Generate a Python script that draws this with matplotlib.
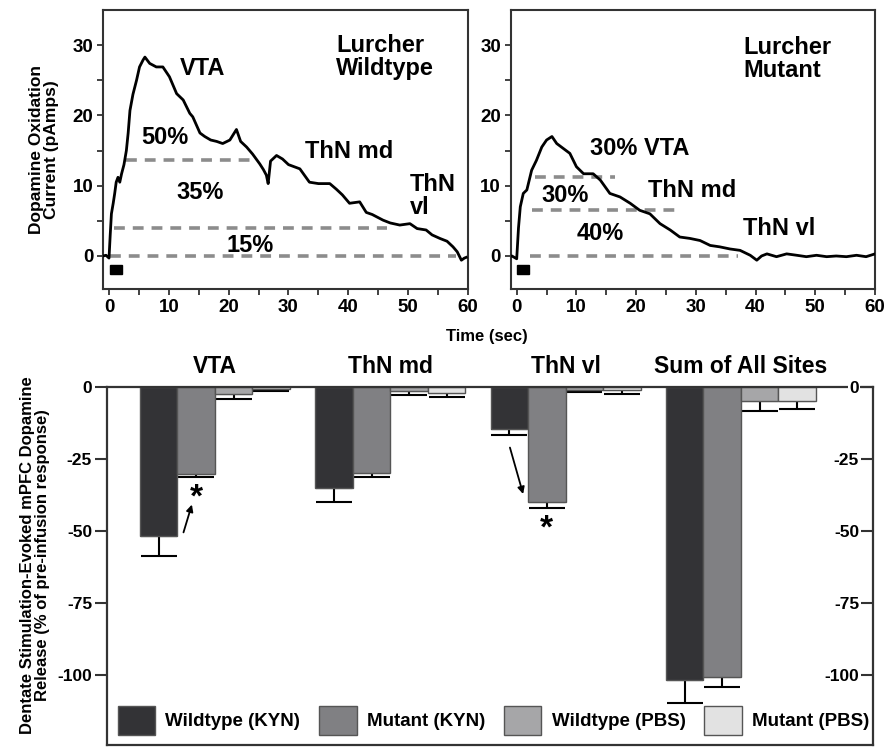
import matplotlib
matplotlib.use("Agg")
import matplotlib.pyplot as plt
import numpy as np

plt.rcParams["font.family"] = ["Liberation Sans", "DejaVu Sans"]
plt.rcParams["font.weight"] = "bold"
plt.rcParams["axes.unicode_minus"] = False

# ---------------------------------------------------------------------------
# Traces
# ---------------------------------------------------------------------------
wt_t = [-1.0, -0.5, 0.0, 0.2, 0.4, 0.7, 0.95, 1.2, 1.5, 1.8, 2.1, 2.5, 2.9, 3.2, 3.5,
        4.0, 4.6, 5.1, 5.7, 6.0, 6.8, 7.9, 9.0, 10.1, 11.3, 12.4, 13.5, 14.0, 15.2,
        16.0, 17.0, 18.0, 19.0, 20.2, 21.3, 22.0, 23.0, 24.0, 25.2, 25.8, 26.3, 26.6,
        27.0, 28.0, 29.0, 30.0, 31.9, 33.5, 35.0, 36.9, 38.0, 39.0, 40.2, 41.9, 43.0,
        44.0, 45.8, 47.0, 48.6, 50.3, 51.5, 53.0, 54.0, 55.3, 56.5, 57.5, 58.2, 58.9,
        59.4, 59.7]
wt_i = [0.0, 0.1, -0.3, 3.0, 6.0, 7.5, 8.9, 10.5, 11.2, 10.5, 11.7, 13.0, 15.0, 17.5, 20.7,
        23.0, 25.0, 26.9, 27.9, 28.3, 27.4, 26.9, 26.9, 25.5, 23.1, 22.2, 20.3, 19.8, 17.5,
        17.0, 16.5, 16.3, 16.0, 16.5, 18.0, 16.3, 15.5, 14.5, 13.1, 12.3, 11.5, 10.3,
        13.5, 14.3, 13.8, 13.0, 12.4, 10.5, 10.3, 10.3, 9.5, 8.7, 7.5, 7.7, 6.2,
        5.9, 5.1, 4.7, 4.4, 4.6, 3.9, 3.7, 3.0, 2.5, 2.1, 1.3, 0.6, -0.6,
        -0.3, -0.2]

mut_t = [-1.0, -0.8, 0.0, 0.3, 0.6, 1.1, 1.7, 2.5, 3.3, 4.2, 5.0, 5.9, 6.7, 7.8, 8.9,
         10.0, 11.2, 12.8, 14.0, 15.6, 17.3, 19.0, 20.6, 22.3, 24.0, 25.7, 27.3, 29.0,
         30.7, 32.4, 34.0, 35.7, 37.4, 39.1, 40.2, 41.0, 41.9, 43.5, 45.2, 46.9, 48.5,
         50.2, 51.9, 53.5, 55.2, 56.9, 58.5, 60.0]
mut_i = [0.0, 0.0, -0.4, 4.0, 7.0, 8.9, 9.4, 12.2, 13.6, 15.5, 16.5, 17.0, 16.0, 15.3, 14.6,
         12.7, 11.7, 11.7, 10.8, 8.9, 8.4, 7.5, 6.5, 6.0, 4.6, 3.7, 2.7, 2.5,
         2.2, 1.5, 1.3, 1.0, 0.8, 0.1, -0.6, 0.0, 0.3, -0.1, 0.3, 0.1, -0.1,
         0.1, -0.1, 0.0, -0.1, 0.1, -0.1, 0.3]

# dashed fraction levels: (y, t_start, t_end)
wt_levels = [(13.7, 2.9, 24.7), (4.0, 0.9, 46.4), (0.0, 0.1, 58.0)]
mut_levels = [(11.2, 3.1, 16.5), (6.5, 2.5, 27.3), (0.0, 2.2, 37.1)]

# ---------------------------------------------------------------------------
# Bar data (% of pre-infusion response), lower error only
# ---------------------------------------------------------------------------
sites = ["VTA", "ThN md", "ThN vl", "Sum of All Sites"]
groups = ["Wildtype (KYN)", "Mutant (KYN)", "Wildtype (PBS)", "Mutant (PBS)"]
wt_kyn = [-51.7, -35.3, -14.6, -102.0]
mut_kyn = [-30.4, -29.8, -40.1, -100.9]
wt_pbs = [-2.5, -1.5, -1.1, -4.8]
mut_pbs = [-0.8, -2.3, -1.1, -4.8]
wt_kyn_err = [7.0, 4.8, 2.1, 7.8]
mut_kyn_err = [0.8, 1.4, 1.9, 3.4]
wt_pbs_err = [1.7, 1.5, 0.6, 3.8]
mut_pbs_err = [0.7, 1.3, 1.4, 2.8]

BAR_COLORS = ["#333336", "#808083", "#a6a6a8", "#e2e2e2"]
EDGE = "#555555"
SPINE = "#333333"
DASH = "#8c8c8c"

fig = plt.figure(figsize=(8.89, 7.47), dpi=100)


def trace_panel(rect, t, cur, levels, texts):
    ax = fig.add_axes(rect)
    for y, t0, t1 in levels:
        ax.plot([t0, t1], [y, y], color=DASH, lw=2.6, dashes=(3, 2.2), zorder=1)
    ax.plot(t, cur, color="black", lw=2.0, zorder=3)
    ax.add_patch(plt.Rectangle((0.1, -2.6), 2.0, 1.3, color="black", zorder=3))
    ax.set_xlim(-1, 60)
    ax.set_ylim(-4.7, 35)
    ax.set_xticks([0, 10, 20, 30, 40, 50, 60])
    ax.set_xticks(np.arange(5, 60, 10), minor=True)
    ax.set_yticks([0, 10, 20, 30])
    ax.set_yticks([5, 15, 25], minor=True)
    ax.tick_params(which="both", direction="out", length=4, width=1.3, color=SPINE,
                   labelsize=13.5, pad=3)
    for sp in ax.spines.values():
        sp.set_linewidth(1.5)
        sp.set_color(SPINE)
    for x, y, s in texts:
        ax.text(x, y, s, fontsize=17, fontweight="bold", ha="left", va="center",
                linespacing=1.0)
    return ax


ax1 = trace_panel([0.1159, 0.6131, 0.4105, 0.3735], wt_t, wt_i, wt_levels,
                  [(11.8, 26.7, "VTA"), (38.0, 28.3, "Lurcher\nWildtype"),
                   (5.4, 16.9, "50%"), (32.7, 14.8, "ThN md"), (11.3, 9.0, "35%"),
                   (50.3, 8.5, "ThN\nvl"), (19.6, 1.5, "15%")])
ax1.set_ylabel("Dopamine Oxidation\nCurrent (pAmps)", fontsize=12.5, fontweight="bold",
               labelpad=10, linespacing=1.0)

ax2 = trace_panel([0.5745, 0.6131, 0.4098, 0.3735], mut_t, mut_i, mut_levels,
                  [(37.9, 28.0, "Lurcher\nMutant"), (12.3, 15.3, "30% VTA"),
                   (4.2, 8.6, "30%"), (22.0, 9.3, "ThN md"), (10.0, 3.2, "40%"),
                   (37.9, 3.9, "ThN vl")])
fig.text(0.5475, 0.549, "Time (sec)", fontsize=12, fontweight="bold", ha="center",
         va="center")

# ---------------------------------------------------------------------------
# Bar panel
# ---------------------------------------------------------------------------
ax3 = fig.add_axes([0.1207, 0.0027, 0.8613, 0.4796])
x = np.arange(len(sites))
w = 0.214
series = [(wt_kyn, wt_kyn_err), (mut_kyn, mut_kyn_err), (wt_pbs, wt_pbs_err),
          (mut_pbs, mut_pbs_err)]
handles = []
for i, ((vals, errs), col, lab) in enumerate(zip(series, BAR_COLORS, groups)):
    pos = x + (i - 1.5) * w
    b = ax3.bar(pos, vals, width=w, color=col, edgecolor=EDGE, linewidth=1.0,
                label=lab, zorder=2)
    ax3.errorbar(pos, vals, yerr=[errs, [0] * len(errs)], fmt="none", ecolor="black",
                 elinewidth=1.5, capsize=13, capthick=1.5, zorder=1)
    handles.append(b)

ax3.set_xlim(-0.614, 3.753)
ax3.set_ylim(-124.4, 0)
ax3.set_xticks([])
ax3.set_yticks([-100, -75, -50, -25, 0])
ax3.tick_params(axis="y", direction="out", length=9, width=1.5, color=SPINE,
                labelsize=12.5, pad=2)
for sp in ax3.spines.values():
    sp.set_linewidth(1.6)
    sp.set_color(SPINE)
ax3.set_ylabel("Dentate Stimulation-Evoked mPFC Dopamine\nRelease (% of pre-infusion response)",
               fontsize=12, fontweight="bold", linespacing=1.0)
ax3.yaxis.set_label_coords(-0.075, 0.53)

# right-hand axis: ticks and labels drawn inward
axr = ax3.twinx()
axr.set_ylim(ax3.get_ylim())
axr.set_yticks([-100, -75, -50, -25, 0])
axr.tick_params(axis="y", direction="in", length=9, width=1.5, color=SPINE,
                labelsize=12.5, pad=-10)
for lbl in axr.get_yticklabels():
    lbl.set_horizontalalignment("right")
    lbl.set_bbox(dict(facecolor="white", edgecolor="none", pad=1))
for sp in axr.spines.values():
    sp.set_visible(False)

for xi, s in zip(x, sites):
    ax3.text(xi, 3.0, s, fontsize=16.5, fontweight="bold", ha="center", va="bottom",
             clip_on=False)

# significance markers
ax3.annotate("", xy=(-0.127, -40), xytext=(-0.184, -51.5),
             arrowprops=dict(arrowstyle="-|>", color="black", lw=1.3, mutation_scale=10))
ax3.text(-0.107, -38.5, "*", fontsize=24, fontweight="bold", ha="center", va="center")
ax3.annotate("", xy=(1.762, -38.2), xytext=(1.678, -20.2),
             arrowprops=dict(arrowstyle="-|>", color="black", lw=1.3, mutation_scale=10))
ax3.text(1.892, -49.5, "*", fontsize=24, fontweight="bold", ha="center", va="center")

leg = ax3.legend(handles=handles, loc="lower left", bbox_to_anchor=(0.0, 0.0), ncol=4,
                 frameon=False, fontsize=13.5, handlelength=2.0, handleheight=2.0,
                 handletextpad=0.55, columnspacing=1.0, borderaxespad=0.15)

fig.savefig("out.png", dpi=100)
